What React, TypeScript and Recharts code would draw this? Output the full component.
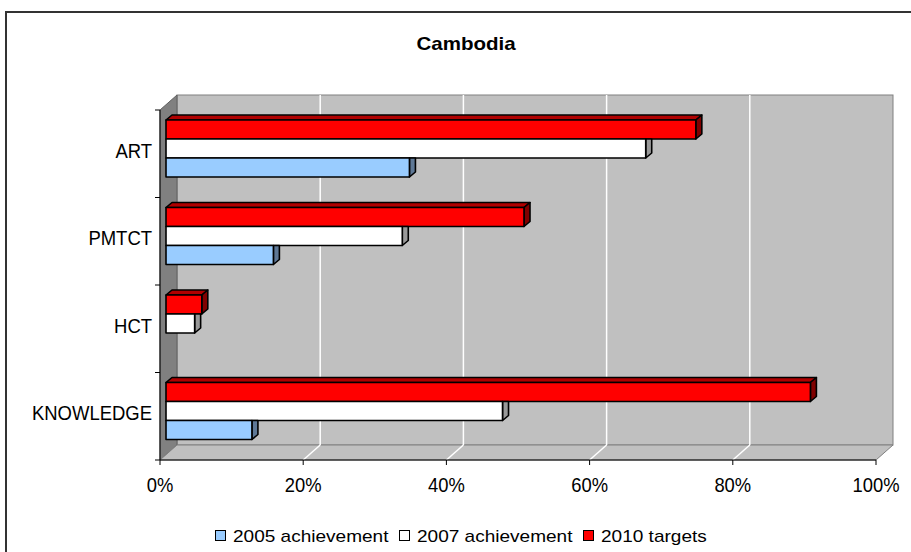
import React from 'react';
import { BarChart, Bar, XAxis, YAxis, CartesianGrid } from 'recharts';

const categories = ['ART', 'PMTCT', 'HCT', 'KNOWLEDGE'];
const achievement2005 = [34, 15, 0, 12];
const achievement2007 = [67, 33, 4, 47];
const targets2010 = [74, 50, 5, 90];
const xTicks = [0, 20, 40, 60, 80, 100];
const seriesNames = ['2005 achievement', '2007 achievement', '2010 targets'];
const seriesColors = ['#99ccff', '#ffffff', '#ff0000'];

const W = 911;
const H = 552;
// front plane of the 3d plot box
const PLOT_L = 160;
const PLOT_R = 876;
const PLOT_T = 110;
const PLOT_B = 460;
const WALL_DX = 17;
const WALL_DY = 15;
// bars sit a bit behind the front plane
const BAR_DX = 6;
const BAR_DY = 5;
const FONT = '"Liberation Sans", Arial, sans-serif';
const LEGEND_X = [215, 399, 583];

const chartData = categories.map((name, i) => ({
  name,
  a2005: achievement2005[i],
  a2007: achievement2007[i],
  t2010: targets2010[i],
}));

const Bar3D = (props: any) => {
  const { x, y, width, height, fill, topFill, sideFill, lead } = props;
  if (!width || width <= 0) return null;
  const fx = x + BAR_DX;
  const fy = y - BAR_DY;
  const d = 6;
  const e = 5;
  const r = fx + width;
  return (
    <g stroke="#000" strokeWidth={1.6} strokeLinejoin="round">
      {lead && (
        <polygon
          points={`${fx},${fy} ${fx + d},${fy - e} ${r + d},${fy - e} ${r},${fy}`}
          fill={topFill}
        />
      )}
      {lead ? (
        <polygon
          points={`${r},${fy} ${r + d},${fy - e} ${r + d},${fy + height - e} ${r},${fy + height}`}
          fill={sideFill}
        />
      ) : (
        <polygon
          points={`${r},${fy} ${r + d},${fy} ${r + d},${fy + height - e} ${r},${fy + height}`}
          fill={sideFill}
        />
      )}
      <rect x={fx} y={fy} width={width} height={height} fill={fill} />
    </g>
  );
};

const CatTick = (props: any) => {
  const { y, payload, index } = props;
  const half = (PLOT_B - PLOT_T) / categories.length / 2;
  return (
    <g>
      <line x1={PLOT_L - 5} x2={PLOT_L} y1={y - half} y2={y - half} stroke="#000" />
      {index === categories.length - 1 && (
        <line x1={PLOT_L - 5} x2={PLOT_L} y1={y + half} y2={y + half} stroke="#000" />
      )}
      <text
        transform={`translate(${PLOT_L - 8},${y + 4}) scale(0.88,1)`}
        textAnchor="end"
        fontSize={21}
        fill="#000"
        fontFamily={FONT}
      >
        {payload.value}
      </text>
    </g>
  );
};

const PctTick = (props: any) => {
  const { x, payload } = props;
  return (
    <text
      transform={`translate(${x},${PLOT_B + 32}) scale(0.92,1)`}
      textAnchor="middle"
      fontSize={20}
      fill="#000"
      fontFamily={FONT}
    >
      {payload.value}%
    </text>
  );
};

// back wall grid line + the matching line across the floor
const GridLine = (props: any) => {
  const { x1, index } = props;
  if (Math.abs(x1 - PLOT_L) < 1 || Math.abs(x1 - PLOT_R) < 1) return <g key={index} />;
  return (
    <g key={index} stroke="#fff" strokeWidth={1.5}>
      <line x1={x1 + WALL_DX} x2={x1 + WALL_DX} y1={PLOT_T - WALL_DY} y2={PLOT_B - WALL_DY} />
      <line x1={x1} y1={PLOT_B} x2={x1 + WALL_DX} y2={PLOT_B - WALL_DY} />
    </g>
  );
};

export default function App() {
  return (
    <div
      style={{
        position: 'absolute',
        left: 0,
        top: 0,
        width: W,
        height: H,
        overflow: 'hidden',
        background: '#fff',
        fontFamily: FONT,
      }}
    >
      <div
        style={{
          position: 'absolute',
          left: 5,
          top: 11,
          width: 1000,
          height: 1000,
          border: '2px solid #333',
        }}
      />
      <svg width={W} height={H} style={{ position: 'absolute', left: 0, top: 0 }}>
        <text
          transform="translate(466,50) scale(1.14,1)"
          textAnchor="middle"
          fontSize={18}
          fontWeight="bold"
          fontFamily={FONT}
          fill="#000"
        >
          Cambodia
        </text>
        {/* back wall */}
        <rect
          x={PLOT_L + WALL_DX}
          y={PLOT_T - WALL_DY}
          width={PLOT_R - PLOT_L}
          height={PLOT_B - PLOT_T}
          fill="#c0c0c0"
          stroke="#808080"
        />
        {/* left wall */}
        <polygon
          points={`${PLOT_L},${PLOT_T} ${PLOT_L + WALL_DX},${PLOT_T - WALL_DY} ${PLOT_L + WALL_DX},${PLOT_B - WALL_DY} ${PLOT_L},${PLOT_B}`}
          fill="#808080"
          stroke="#606060"
        />
        {/* floor */}
        <polygon
          points={`${PLOT_L},${PLOT_B} ${PLOT_L + WALL_DX},${PLOT_B - WALL_DY} ${PLOT_R + WALL_DX},${PLOT_B - WALL_DY} ${PLOT_R},${PLOT_B}`}
          fill="#c0c0c0"
          stroke="#808080"
        />
        {/* legend */}
        {seriesNames.map((s, i) => (
          <g key={s}>
            <rect
              x={LEGEND_X[i] + 0.5}
              y={530.5}
              width={10}
              height={10}
              fill={seriesColors[i]}
              stroke="#000"
            />
            <text
              transform={`translate(${LEGEND_X[i] + 18},542) scale(1.12,1)`}
              fontSize={17}
              fontFamily={FONT}
              fill="#000"
            >
              {s}
            </text>
          </g>
        ))}
      </svg>
      <div style={{ position: 'absolute', left: 0, top: 0 }}>
        <BarChart
          width={W}
          height={H}
          data={chartData}
          layout="vertical"
          margin={{ top: PLOT_T, right: W - PLOT_R, bottom: 62, left: 10 }}
          barSize={19}
          barGap={0}
        >
          <CartesianGrid horizontal={false} vertical={GridLine} />
          <XAxis
            type="number"
            domain={[0, 100]}
            ticks={xTicks}
            height={30}
            tick={PctTick}
            tickSize={5}
            tickLine={{ stroke: '#000' }}
            axisLine={{ stroke: '#000' }}
          />
          <YAxis
            type="category"
            dataKey="name"
            width={150}
            tick={CatTick}
            tickLine={false}
            axisLine={{ stroke: '#000' }}
          />
          <Bar
            dataKey="t2010"
            name={seriesNames[2]}
            fill={seriesColors[2]}
            isAnimationActive={false}
            shape={(p: any) => <Bar3D {...p} topFill="#b00000" sideFill="#800000" lead />}
          />
          <Bar
            dataKey="a2007"
            name={seriesNames[1]}
            fill={seriesColors[1]}
            isAnimationActive={false}
            shape={(p: any) => <Bar3D {...p} topFill="#c0c0c0" sideFill="#999999" />}
          />
          <Bar
            dataKey="a2005"
            name={seriesNames[0]}
            fill={seriesColors[0]}
            isAnimationActive={false}
            shape={(p: any) => <Bar3D {...p} topFill="#7a9fcc" sideFill="#5e7896" />}
          />
        </BarChart>
      </div>
    </div>
  );
}
